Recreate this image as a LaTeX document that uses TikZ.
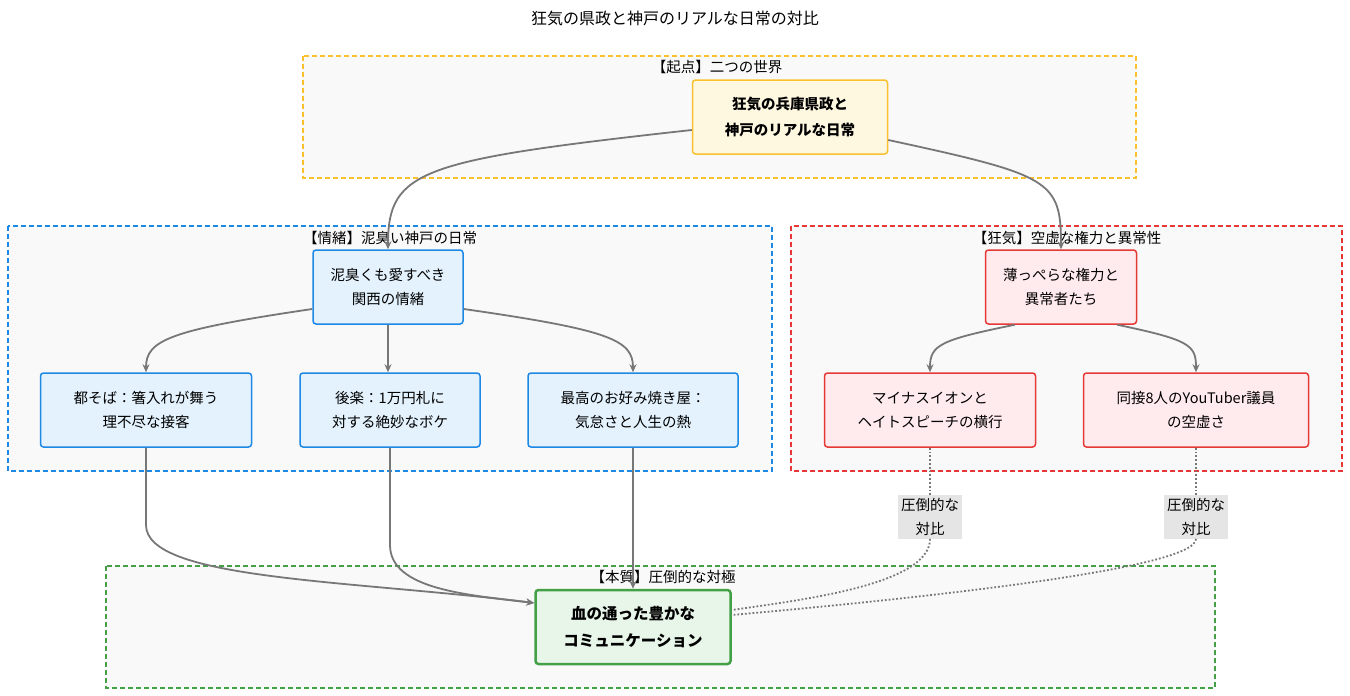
\documentclass[tikz,border=0pt]{standalone}
\usepackage{fontspec}
\setmainfont{Noto Sans CJK JP}
\usetikzlibrary{arrows.meta}
\definecolor{edgegray}{HTML}{777777}
\definecolor{grpfill}{HTML}{F9F9F9}
\definecolor{yelline}{HTML}{FBC02D}
\definecolor{yelfill}{HTML}{FFF8E1}
\definecolor{bluline}{HTML}{1E88E5}
\definecolor{blufill}{HTML}{E3F2FD}
\definecolor{redline}{HTML}{E53935}
\definecolor{redfill}{HTML}{FFEBEE}
\definecolor{grnline}{HTML}{43A047}
\definecolor{grnfill}{HTML}{E8F5E9}
\begin{document}
\begin{tikzpicture}[x=1pt,y=-1pt,font=\fontsize{14.5}{24}\selectfont]
    \tikzstyle{grp} = [draw, dashed, line width=1.5pt, fill=grpfill, dash pattern=on 5pt off 3pt]
    \tikzstyle{box} = [shape=rectangle, rounded corners=3pt, line width=1.5pt, align=center, minimum height=74pt]
    \tikzstyle{emo} = [box, draw=bluline, fill=blufill]
    \tikzstyle{mad} = [box, draw=redline, fill=redfill]
    \tikzstyle{link} = [-{Stealth[length=8pt,width=7pt]}, edgegray, line width=1.8pt]
    \tikzstyle{vs} = [edgegray, line width=1.8pt, dotted]
    \tikzstyle{vslbl} = [fill=black!10, align=center, inner sep=3pt]
    \useasboundingbox (0,0) rectangle (1350,696);
    \node (title) at (675,18) {\fontsize{16}{20}\selectfont 狂気の県政と神戸のリアルな日常の対比};

    % 枠
    \draw[grp, draw=yelline] (303,56) rectangle (1136,178);
    \node (gtop) at (717,67) {【起点】二つの世界};
    \draw[grp, draw=bluline] (8,226) rectangle (772,471);
    \node (gemo) at (390,238) {【情緒】泥臭い神戸の日常};
    \draw[grp, draw=redline] (791,226) rectangle (1342,471);
    \node (gmad) at (1067,238) {【狂気】空虚な権力と異常性};
    \draw[grp, draw=grnline] (106,566) rectangle (1215,688);
    \node (gend) at (663,577) {【本質】圧倒的な対極};

    % ノード
    \node (top) [box, draw=yelline, fill=yelfill, minimum width=195pt, font=\fontsize{14.5}{26}\selectfont\bfseries] at (790,117) {狂気の兵庫県政と\\神戸のリアルな日常};
    \node (e0) [emo, minimum width=150pt] at (388,287) {泥臭くも愛すべき\\関西の情緒};
    \node (e1) [emo, minimum width=211pt] at (146,410) {都そば：箸入れが舞う\\理不尽な接客};
    \node (e2) [emo, minimum width=180pt] at (390,410) {後楽：1万円札に\\対する絶妙なボケ};
    \node (e3) [emo, minimum width=210pt] at (633,410) {最高のお好み焼き屋：\\気怠さと人生の熱};
    \node (m0) [mad, minimum width=151pt] at (1061,287) {薄っぺらな権力と\\異常者たち};
    \node (m1) [mad, minimum width=211pt] at (930,410) {マイナスイオンと\\ヘイトスピーチの横行};
    \node (m2) [mad, minimum width=225pt] at (1196,410) {同接8人のYouTuber議員\\の空虚さ};
    \node (core) [box, draw=grnline, fill=grnfill, line width=2.5pt, minimum width=195pt, font=\fontsize{15.5}{27}\selectfont\bfseries] at (633,627) {血の通った豊かな\\コミュニケーション};
    \node (c1) [vslbl] at (930,517) {圧倒的な\\対比};
    \node (c2) [vslbl] at (1196,517) {圧倒的な\\対比};

    % 接続
    \draw[link] (top.west |- 0,130) .. controls (420,160) and (388,170) .. (e0.north);
    \draw[link] (top.east |- 0,140) .. controls (1050,175) and (1061,180) .. (m0.north);
    \draw[link] (e0.west |- 0,309) .. controls (170,330) and (146,340) .. (e1.north);
    \draw[link] (e0.south) -- (e2.north -| e0.south);
    \draw[link] (e0.east |- 0,309) .. controls (610,330) and (633,340) .. (e3.north);
    \draw[link] (m0.south west) ++(30,0) coordinate (ma) .. controls (940,340) and (930,345) .. (m1.north);
    \draw[link] (m0.south east) ++(-20,0) coordinate (mb) .. controls (1190,340) and (1196,345) .. (m2.north);
    \draw[link] (e1.south) -- (146,525) .. controls (146,580) and (350,580) .. (core.west |- 0,603);
    \draw[link] (e2.south) -- (390,545) .. controls (390,590) and (470,595) .. (core.west |- 0,603);
    \draw[link] (e3.south) -- (core.north);
    \draw[vs] (m1.south) -- (c1.north);
    \draw[vs] (c1.south) .. controls (930,585) and (800,600) .. (core.east |- 0,610);
    \draw[vs] (m2.south) -- (c2.north);
    \draw[vs] (c2.south) .. controls (1196,570) and (900,600) .. (core.east |- 0,615);
\end{tikzpicture}
\end{document}
